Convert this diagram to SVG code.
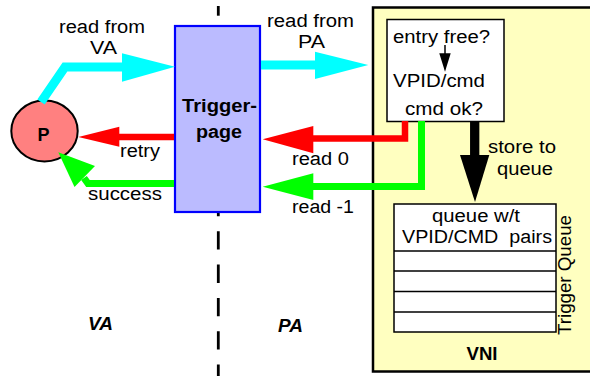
<svg xmlns="http://www.w3.org/2000/svg" width="590" height="376" viewBox="0 0 590 376">
  <style>
    text { font-family: "Liberation Sans", Arial, sans-serif; font-size: 18px; fill: #000; }
    .mid { text-anchor: middle; }
    .bold { font-weight: bold; }
    .bi { font-weight: bold; font-style: italic; }
    .cyan { stroke: #00FFFF; fill: none; stroke-width: 9; }
    .red { stroke: #FF0000; fill: none; stroke-width: 6.5; }
    .green { stroke: #00FF00; fill: none; stroke-width: 7; }
  </style>

  <rect x="0" y="0" width="590" height="376" fill="#FFFFFF"/>

  <!-- VA / PA boundary -->
  <g id="boundary" stroke="#000" stroke-width="2.8">
    <line x1="218.3" y1="6" x2="218.3" y2="15.7"/>
    <line x1="218.3" y1="198" x2="218.3" y2="376" stroke-dasharray="18.3 15"/>
  </g>

  <!-- VNI adapter -->
  <g id="vni">
    <rect x="373" y="7.5" width="230" height="364" fill="#FFFFC0" stroke="#000" stroke-width="2.5"/>
    <text class="mid bold" x="482" y="360" textLength="31" lengthAdjust="spacingAndGlyphs">VNI</text>
  </g>

  <!-- command check box -->
  <g id="cmd-check">
    <rect x="387" y="19.5" width="117" height="102" fill="#FFFFFF" stroke="#000" stroke-width="1.5"/>
    <text class="mid" x="441.5" y="43.3" textLength="97" lengthAdjust="spacingAndGlyphs">entry free?</text>
    <line x1="445" y1="45" x2="445" y2="55" stroke="#000" stroke-width="1.5"/>
    <polygon points="439.3,53.3 450.7,53.3 445,71.7" fill="#000"/>
    <text class="mid" x="439" y="87.3" textLength="92" lengthAdjust="spacingAndGlyphs">VPID/cmd</text>
    <text class="mid" x="444" y="115" textLength="78" lengthAdjust="spacingAndGlyphs">cmd ok?</text>
  </g>

  <!-- trigger queue -->
  <g id="trigger-queue" stroke="#000" stroke-width="1.5">
    <rect x="394" y="204" width="162" height="128" fill="#FFFFFF"/>
    <line x1="394" y1="251" x2="556" y2="251"/>
    <line x1="394" y1="271" x2="556" y2="271"/>
    <line x1="394" y1="291.5" x2="556" y2="291.5"/>
    <line x1="394" y1="312" x2="556" y2="312"/>
    <text class="mid" x="476" y="221.7" stroke="none" textLength="88" lengthAdjust="spacingAndGlyphs">queue w/t</text>
    <text class="mid" x="477" y="243.3" stroke="none" textLength="150" lengthAdjust="spacingAndGlyphs" xml:space="preserve">VPID/CMD  pairs</text>
    <text class="mid" transform="translate(571,275) rotate(-90)" stroke="none" textLength="120" lengthAdjust="spacingAndGlyphs">Trigger Queue</text>
  </g>

  <!-- trigger page -->
  <g id="trigger-page">
    <rect x="175" y="26" width="85" height="186" fill="#BBBBFF" stroke="#0000FF" stroke-width="2.2"/>
    <text class="mid bold" x="219.5" y="111.7" textLength="75" lengthAdjust="spacingAndGlyphs">Trigger-</text>
    <text class="mid bold" x="219" y="138.3" textLength="46" lengthAdjust="spacingAndGlyphs">page</text>
  </g>

  <!-- processor -->
  <g id="processor">
    <ellipse cx="44.5" cy="131" rx="33.2" ry="30.5" fill="#FF8080" stroke="#000" stroke-width="2"/>
    <text class="mid bold" x="43.5" y="140.5" textLength="12" lengthAdjust="spacingAndGlyphs">P</text>
  </g>

  <!-- connectors -->
  <g id="connectors">
    <!-- read from VA -->
    <polyline class="cyan" points="41,102 65,67 124,67"/>
    <polygon points="122,53.3 175,66.7 122,81.7" fill="#00FFFF"/>
    <!-- read from PA -->
    <line class="cyan" x1="261" y1="65" x2="317" y2="65"/>
    <polygon points="315,51.7 368.3,65 315,79" fill="#00FFFF"/>
    <!-- retry -->
    <line class="red" x1="174" y1="137" x2="117" y2="137"/>
    <polygon points="119.3,126.7 78.3,137 119.3,146.7" fill="#FF0000"/>
    <!-- success -->
    <polyline class="green" points="174,183.5 88,183.5 84,178"/>
    <polygon points="58.3,152.3 74.5,187 95,166" fill="#00FF00"/>
    <!-- read 0 -->
    <polyline class="red" points="405,121 405,138.5 311,138.5"/>
    <polygon points="313.3,126 262.7,139.3 313.3,153.3" fill="#FF0000"/>
    <!-- read -1 -->
    <polyline class="green" points="421.5,121 421.5,186.5 311,186.5"/>
    <polygon points="313.3,173.3 262.7,186.7 313.3,200" fill="#00FF00"/>
    <!-- store to queue -->
    <line x1="474.7" y1="121" x2="474.7" y2="157" stroke="#000" stroke-width="9.3"/>
    <polygon points="460,155 489.3,155 475,202" fill="#000"/>
  </g>

  <!-- connector labels -->
  <g id="labels">
    <text class="mid" x="102" y="33.3" textLength="86" lengthAdjust="spacingAndGlyphs">read from</text>
    <text class="mid" x="103.5" y="54.3" textLength="27" lengthAdjust="spacingAndGlyphs">VA</text>
    <text class="mid" x="310.5" y="26.7" textLength="87" lengthAdjust="spacingAndGlyphs">read from</text>
    <text class="mid" x="311.5" y="48.3" textLength="27" lengthAdjust="spacingAndGlyphs">PA</text>
    <text class="mid" x="140" y="156.7" textLength="40" lengthAdjust="spacingAndGlyphs">retry</text>
    <text class="mid" x="125" y="200" textLength="74" lengthAdjust="spacingAndGlyphs">success</text>
    <text class="mid" x="320.5" y="165" textLength="57" lengthAdjust="spacingAndGlyphs">read 0</text>
    <text class="mid" x="323" y="213.3" textLength="62" lengthAdjust="spacingAndGlyphs">read -1</text>
    <text class="mid" x="522" y="153.3" textLength="68" lengthAdjust="spacingAndGlyphs">store to</text>
    <text class="mid" x="525" y="175" textLength="56" lengthAdjust="spacingAndGlyphs">queue</text>
  </g>

  <!-- address space labels -->
  <g id="spaces">
    <text class="mid bi" x="100.5" y="330" textLength="25" lengthAdjust="spacingAndGlyphs">VA</text>
    <text class="mid bi" x="290.5" y="331.5" textLength="25" lengthAdjust="spacingAndGlyphs">PA</text>
  </g>
</svg>
